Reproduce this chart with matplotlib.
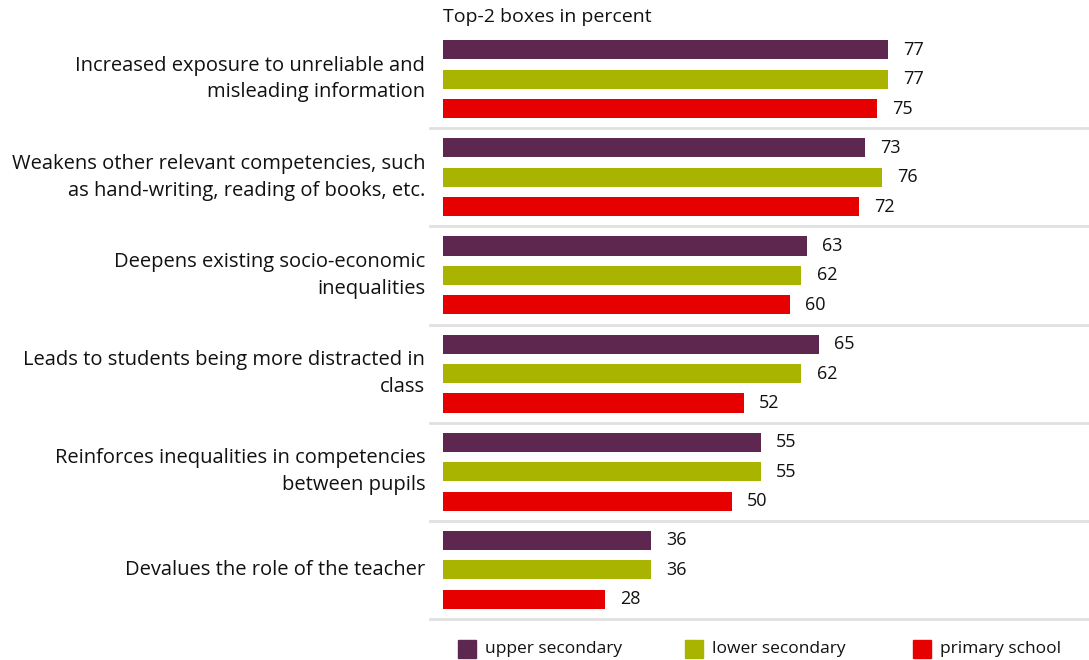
import matplotlib.pyplot as plt
from matplotlib.patches import Rectangle

plt.rcParams['font.family'] = ['Open Sans', 'DejaVu Sans']

# Statements and Top-2 box shares per school type
statements = [
    'Increased exposure to unreliable and\nmisleading information',
    'Weakens other relevant competencies, such\nas hand-writing, reading of books, etc.',
    'Deepens existing socio-economic\ninequalities',
    'Leads to students being more distracted in\nclass',
    'Reinforces inequalities in competencies\nbetween pupils',
    'Devalues the role of the teacher',
]
upper_secondary = [77, 73, 63, 65, 55, 36]
lower_secondary = [77, 76, 62, 62, 55, 36]
primary_school = [75, 72, 60, 52, 50, 28]

series = ['upper secondary', 'lower secondary', 'primary school']
colors = ['#5E2750', '#A8B400', '#E60000']

fig = plt.figure(figsize=(10.89, 6.6), dpi=100)
ax = fig.add_axes([430 / 1089, 1 - 619 / 660, 1 - 430 / 1089, 589 / 660])

offsets = [-0.3, 0.0, 0.3]
for vals, off, col in zip([upper_secondary, lower_secondary, primary_school], offsets, colors):
    ys = [i + off for i in range(len(statements))]
    ax.barh(ys, vals, height=0.195, color=col, left=0)
    for y, v in zip(ys, vals):
        ax.annotate(str(v), (v, y), xytext=(11, 0), textcoords='offset points',
                    va='center', ha='left', fontsize=13, color='#111111')

# light separators between groups
for i in range(len(statements)):
    ax.axhline(i + 0.5, color='#E0E0E0', lw=2, clip_on=False)

ax.set_xlim(-13 / 5.78, (1089 - 443) / 5.78)
ax.set_ylim(len(statements) - 0.5, -0.5)
ax.axis('off')

for i, s in enumerate(statements):
    ax.annotate(s, (0, i), xycoords=('axes fraction', 'data'), xytext=(-3.5, 0),
                textcoords='offset points', ha='right', va='center',
                fontsize=14.5, linespacing=1.45, color='#111111')

fig.text(443 / 1089, 1 - 17 / 660, 'Top-2 boxes in percent', ha='left', va='center',
         fontsize=14, color='#111111')

# legend row at the bottom
for x0, lab, col in zip([458, 685, 913], series, colors):
    fig.add_artist(Rectangle((x0 / 1089, 1 - 658 / 660), 18 / 1089, 18 / 660,
                             transform=fig.transFigure, color=col))
    fig.text((x0 + 27) / 1089, 1 - 649 / 660, lab, ha='left', va='center',
             fontsize=12.5, color='#111111')

fig.savefig('out.png', dpi=100)
